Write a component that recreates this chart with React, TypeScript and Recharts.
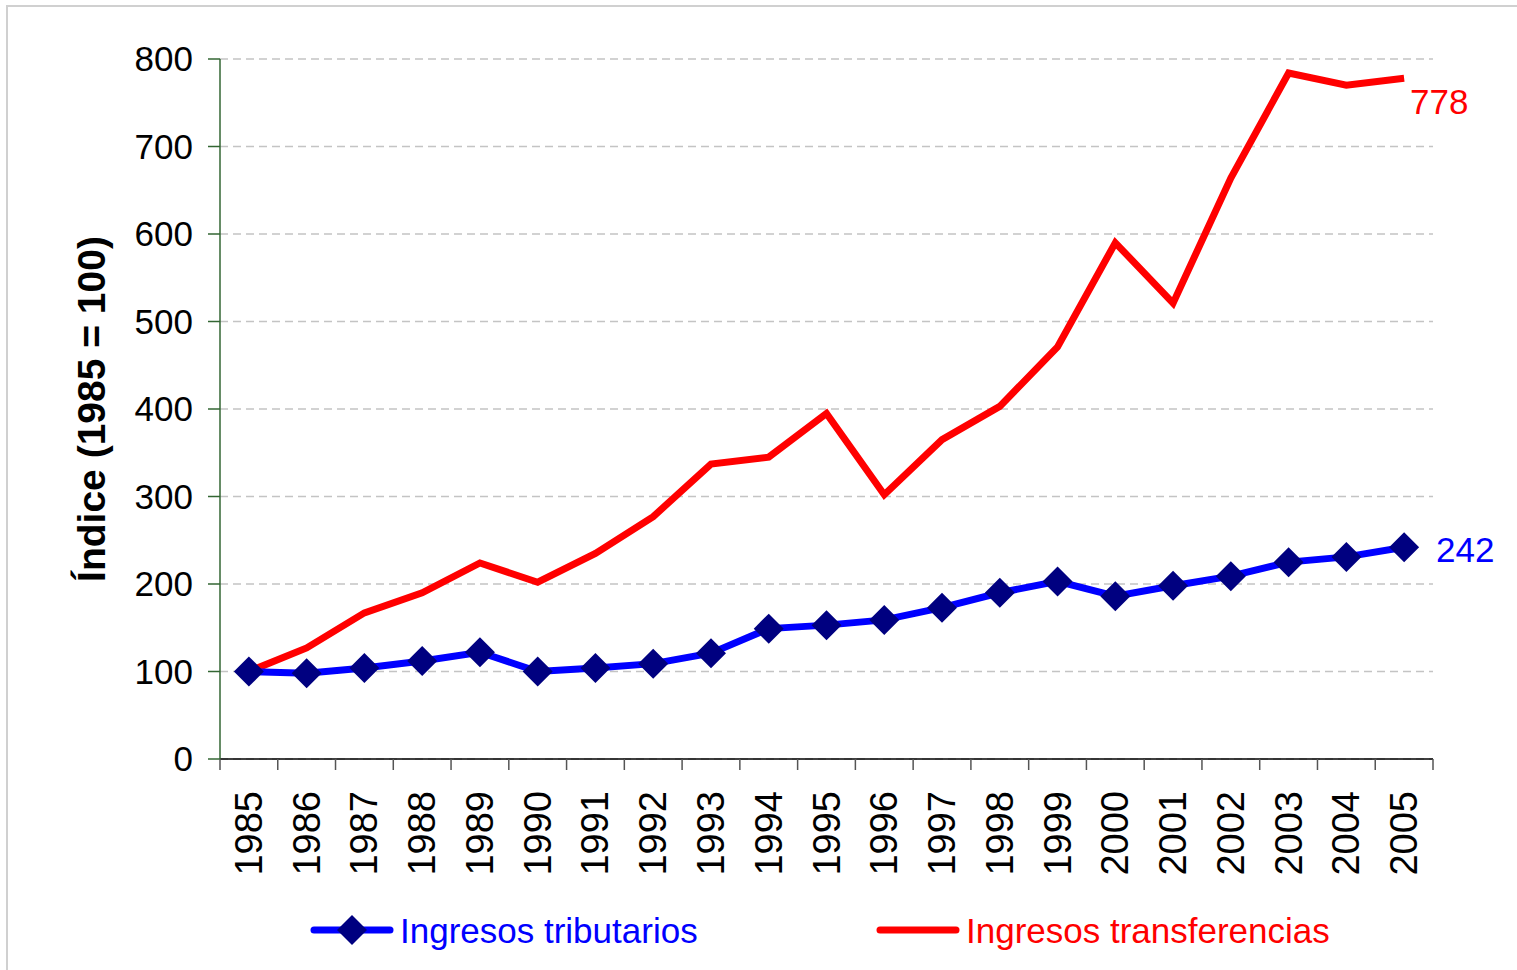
import { LineChart, Line, XAxis, YAxis, CartesianGrid, LabelList } from 'recharts';

const YEARS = [
  '1985', '1986', '1987', '1988', '1989', '1990', '1991', '1992', '1993', '1994', '1995',
  '1996', '1997', '1998', '1999', '2000', '2001', '2002', '2003', '2004', '2005',
];
const TRIBUTARIOS = [100, 98, 104, 112, 122, 100, 104, 109, 121, 149, 153, 159, 173, 190, 203, 186, 198, 209, 225, 231, 242];
const TRANSFERENCIAS = [100, 127, 167, 190, 224, 202, 235, 277, 337, 345, 395, 302, 365, 403, 471, 590, 521, 664, 784, 770, 778];
const Y_TICKS = [0, 100, 200, 300, 400, 500, 600, 700, 800];

const W = 1517;
const H = 970;
const MARGIN = { top: 59, right: 84, bottom: 61, left: 0 };
const Y_W = 220;
const X_H = 150;
const PLOT_W = W - MARGIN.left - MARGIN.right - Y_W;
const BAND = PLOT_W / YEARS.length;
const FONT = '"Liberation Sans", Arial, sans-serif';

const data = YEARS.map((year, i) => ({
  year,
  tributarios: TRIBUTARIOS[i],
  transferencias: TRANSFERENCIAS[i],
}));

const Diamond = (props: any) => {
  const { cx, cy } = props;
  if (cx == null || cy == null) return null;
  const r = 15;
  return <polygon points={`${cx},${cy - r} ${cx + r},${cy} ${cx},${cy + r} ${cx - r},${cy}`} fill="#000080" />;
};

const XTick = (props: any) => {
  const { x, y, payload, index } = props;
  const ty = y + 32;
  return (
    <g>
      <line x1={x - BAND / 2} x2={x - BAND / 2} y1={y} y2={y + 11} stroke="#555" strokeWidth={1.5} />
      {index === YEARS.length - 1 && (
        <line x1={x + BAND / 2} x2={x + BAND / 2} y1={y} y2={y + 11} stroke="#555" strokeWidth={1.5} />
      )}
      <text
        x={x}
        y={ty}
        transform={`rotate(-90 ${x} ${ty})`}
        textAnchor="end"
        dominantBaseline="central"
        fontSize={38}
        fontFamily={FONT}
        fill="#000"
      >
        {payload.value}
      </text>
    </g>
  );
};

const endLabel = (color: string, dx: number, dy: number) => (props: any) => {
  const { x, y, value, index } = props;
  if (index !== YEARS.length - 1) return null;
  return (
    <text x={x + dx} y={y + dy} fill={color} fontSize={35} fontFamily={FONT} dominantBaseline="central">
      {value}
    </text>
  );
};

export default function App() {
  return (
    <div style={{ position: 'absolute', left: 0, top: 0, width: W, height: H, background: '#fff', overflow: 'hidden', fontFamily: FONT }}>
      <div style={{ position: 'absolute', left: 6, top: 5, width: W + 20, height: H + 20, border: '2px solid #d0d0d0', boxSizing: 'border-box' }} />
      <div style={{ position: 'absolute', left: 0, top: 0 }}>
        <LineChart width={W} height={H} data={data} margin={MARGIN}>
          <CartesianGrid vertical={false} stroke="#c4c4c4" strokeDasharray="8 5" strokeWidth={1.5} />
          <XAxis
            dataKey="year"
            height={X_H}
            interval={0}
            padding={{ left: BAND / 2, right: BAND / 2 }}
            tickSize={0}
            tickMargin={0}
            tickLine={false}
            axisLine={{ stroke: '#000', strokeWidth: 1.5 }}
            tick={<XTick />}
          />
          <YAxis
            width={Y_W}
            domain={[0, 800]}
            ticks={Y_TICKS}
            interval={0}
            tickSize={12}
            tickMargin={15}
            axisLine={{ stroke: '#336633', strokeWidth: 1.5 }}
            tickLine={{ stroke: '#336633', strokeWidth: 1.5 }}
            tick={{ fontSize: 35, fill: '#000', fontFamily: FONT }}
            label={{
              value: 'Índice (1985 = 100)',
              angle: -90,
              position: 'center',
              dx: -19,
              style: { fontSize: 39, fontWeight: 'bold', fill: '#000', fontFamily: FONT },
            }}
          />
          <Line
            dataKey="transferencias"
            stroke="#ff0000"
            strokeWidth={7}
            dot={false}
            activeDot={false}
            isAnimationActive={false}
          >
            <LabelList dataKey="transferencias" content={endLabel('#ff0000', 6, 23)} />
          </Line>
          <Line
            dataKey="tributarios"
            stroke="#0000ff"
            strokeWidth={7}
            dot={<Diamond />}
            activeDot={false}
            isAnimationActive={false}
          >
            <LabelList dataKey="tributarios" content={endLabel('#0000ff', 32, 2)} />
          </Line>
        </LineChart>
      </div>
      <div style={{ position: 'absolute', left: 0, top: 905, width: W, height: 50 }}>
        <svg width={W} height={50} style={{ position: 'absolute', left: 0, top: 0 }}>
          <line x1={314} x2={390} y1={25} y2={25} stroke="#0000ff" strokeWidth={7} strokeLinecap="round" />
          <polygon points="352,10 367,25 352,40 337,25" fill="#000080" />
          <text x={400} y={25} fill="#0000ff" fontSize={35} fontFamily={FONT} dominantBaseline="central">
            Ingresos tributarios
          </text>
          <line x1={880} x2={956} y1={25} y2={25} stroke="#ff0000" strokeWidth={7} strokeLinecap="round" />
          <text x={966} y={25} fill="#ff0000" fontSize={35} fontFamily={FONT} dominantBaseline="central">
            Ingresos transferencias
          </text>
        </svg>
      </div>
    </div>
  );
}
